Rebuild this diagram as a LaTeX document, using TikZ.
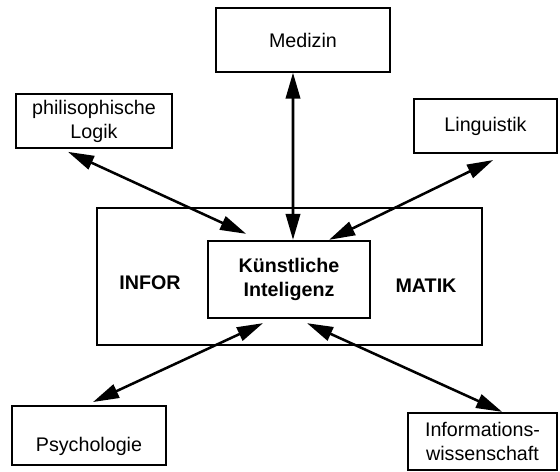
\documentclass[tikz,border=0pt]{standalone}
\usepackage{fontspec}
\setmainfont{Liberation Sans}
\usetikzlibrary{arrows.meta}
\begin{document}
\begin{tikzpicture}[x=0.025cm,y=-0.025cm,
		box/.style={draw,line width=1.5pt,inner sep=0pt,align=center,font=\fontsize{14}{17}\selectfont},
		arr/.style={line width=1.8pt,{Triangle[length=0.65cm,width=0.36cm]}-{Triangle[length=0.65cm,width=0.36cm]}}]
		\useasboundingbox (0,0) rectangle (560,472);
		\node[box,minimum width=9.63cm,minimum height=3.43cm] (info) at (289.5,276.5) {};
		\node[font=\fontsize{14}{17}\selectfont\bfseries] (infor) at (150,283) {INFOR};
		\node[font=\fontsize{14}{17}\selectfont\bfseries] (matik) at (426,286) {MATIK};
		\node[box,minimum width=4.05cm,minimum height=1.93cm,font=\fontsize{14}{17.5}\selectfont\bfseries] (ki) at (289,279.5) {Künstliche\\Inteligenz};
		\node[box,minimum width=4.33cm,minimum height=1.58cm] (med) at (303,40) {Medizin};
		\node[box,minimum width=3.88cm,minimum height=1.35cm] (logik) at (94,121) {philisophische\\Logik};
		\node[box,minimum width=3.58cm,minimum height=1.35cm] (ling) at (485.5,126) {Linguistik};
		\node[box,minimum width=3.85cm,text height=1.15cm,text depth=0.33cm] (psy) at (89,435.5) {Psychologie};
		\node[box,minimum width=3.73cm,minimum height=1.43cm] (iw) at (482.5,441.5) {Informations-\\wissenschaft};
		% Verbindungen
		\draw[arr] ([xshift=-0.25cm]med.south) -- ([xshift=0.1cm]ki.north);
		\draw[arr] ([xshift=-0.65cm,yshift=-0.07cm]logik.south) -- ([xshift=0.98cm,yshift=0.15cm]ki.north west);
		\draw[arr] ([xshift=0.19cm,yshift=-0.15cm]ling.south) -- ([xshift=-1.05cm]ki.north east);
		\draw[arr] ([xshift=0.1cm,yshift=0.07cm]psy.north) -- ([xshift=-0.65cm,yshift=-0.1cm]ki.south);
		\draw[arr] ([xshift=0.45cm,yshift=-0.1cm]ki.south) -- ([xshift=0.49cm]iw.north);
	\end{tikzpicture}
\end{document}
